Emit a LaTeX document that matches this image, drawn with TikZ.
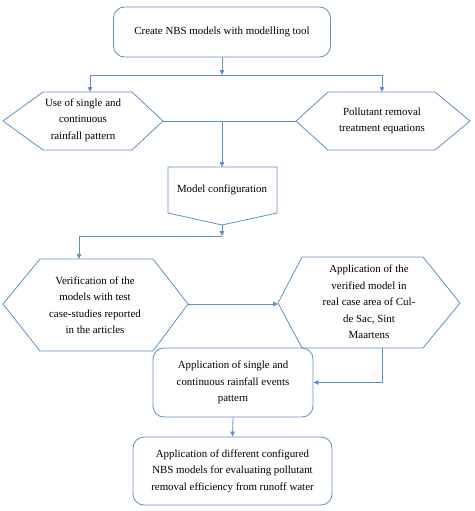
\documentclass[tikz,border=0pt]{standalone}
\usepackage{fontspec}
\setmainfont{Liberation Serif}
\usetikzlibrary{arrows.meta}
\definecolor{flowblue}{RGB}{96,143,200}
\tikzset{
  line/.style={draw=flowblue, line width=0.8pt},
  arr/.style={line, -{Triangle[length=5pt,width=4.5pt]}},
  txt/.style={align=center, font=\fontsize{10.9}{16.5}\selectfont, inner sep=0pt},
  roundbox/.style={line, rounded corners=11pt, txt},
}

\begin{document}
\begin{tikzpicture}[x=1pt, y=-1pt]
\useasboundingbox (0,0) rectangle (474,511);

% boxes
\node[roundbox, minimum width=217pt, minimum height=50pt] (create) at (222,32)
  {Create NBS models with modelling tool};
\node[roundbox, minimum width=160pt, minimum height=69pt] (single) at (233,382.5)
  {Application of single and\\ continuous rainfall events\\ pattern};
\node[roundbox, minimum width=199pt, minimum height=68pt] (different) at (232.5,471)
  {Application of different configured\\ NBS models for evaluating pollutant\\ removal efficiency from runoff water};

% hexagons
\draw[line] (3,121) -- (43,92) -- (132,92) -- (163,121) -- (132,150) -- (43,150) -- cycle;
\node[txt] (usepattern) at (83,120) {Use of single and\\ continuous\\ rainfall pattern};
\draw[line] (296,121) -- (328,92) -- (435,92) -- (470,121) -- (435,150) -- (328,150) -- cycle;
\node[txt] (pollutant) at (382,121) {Pollutant removal\\ treatment equations};
\draw[line] (3,304) -- (40,259) -- (153,259) -- (188,304) -- (153,351) -- (40,351) -- cycle;
\node[txt] (verify) at (95,305) {Verification of the\\ models with test\\ case-studies reported\\ in the articles};
\draw[line] (278,303) -- (302,257) -- (423,257) -- (460,303) -- (423,348) -- (302,348) -- cycle;
\node[txt] (realcase) at (369,302) {Application of the\\ verified model in\\ real case area of Cul-\\ de Sac, Sint\\ Maartens};

% model configuration
\draw[line] (168,167) -- (277,167) -- (277,213) -- (222,225) -- (168,213) -- cycle;
\node[txt] (config) at (222,190) {Model configuration};

% connector points
\coordinate (split1) at (222,75);
\coordinate (usen) at (90,92);
\coordinate (polln) at (382,92);
\coordinate (usee) at (163,121);
\coordinate (pollw) at (296,121);
\coordinate (join1) at (222,121);
\coordinate (confn) at (222,167);
\coordinate (confs) at (222,225);
\coordinate (split2) at (222,236);
\coordinate (verin) at (79,259);
\coordinate (verie) at (188,304);
\coordinate (realw) at (278,304);
\coordinate (reals) at (382,348);

% connectors
\draw[arr] (create.south) -- (split1);
\draw[arr] (split1) -| (usen);
\draw[arr] (split1) -| (polln);
\draw[line] (usee) -- (pollw);
\draw[arr] (join1) -- (confn);
\draw[arr] (confs) -- (split2);
\draw[arr] (split2) -| (verin);
\draw[arr] (verie) -- (realw);
\draw[arr] (reals) |- (single.east);
\draw[arr] (single.south) -- (different.north);
\end{tikzpicture}
\end{document}
